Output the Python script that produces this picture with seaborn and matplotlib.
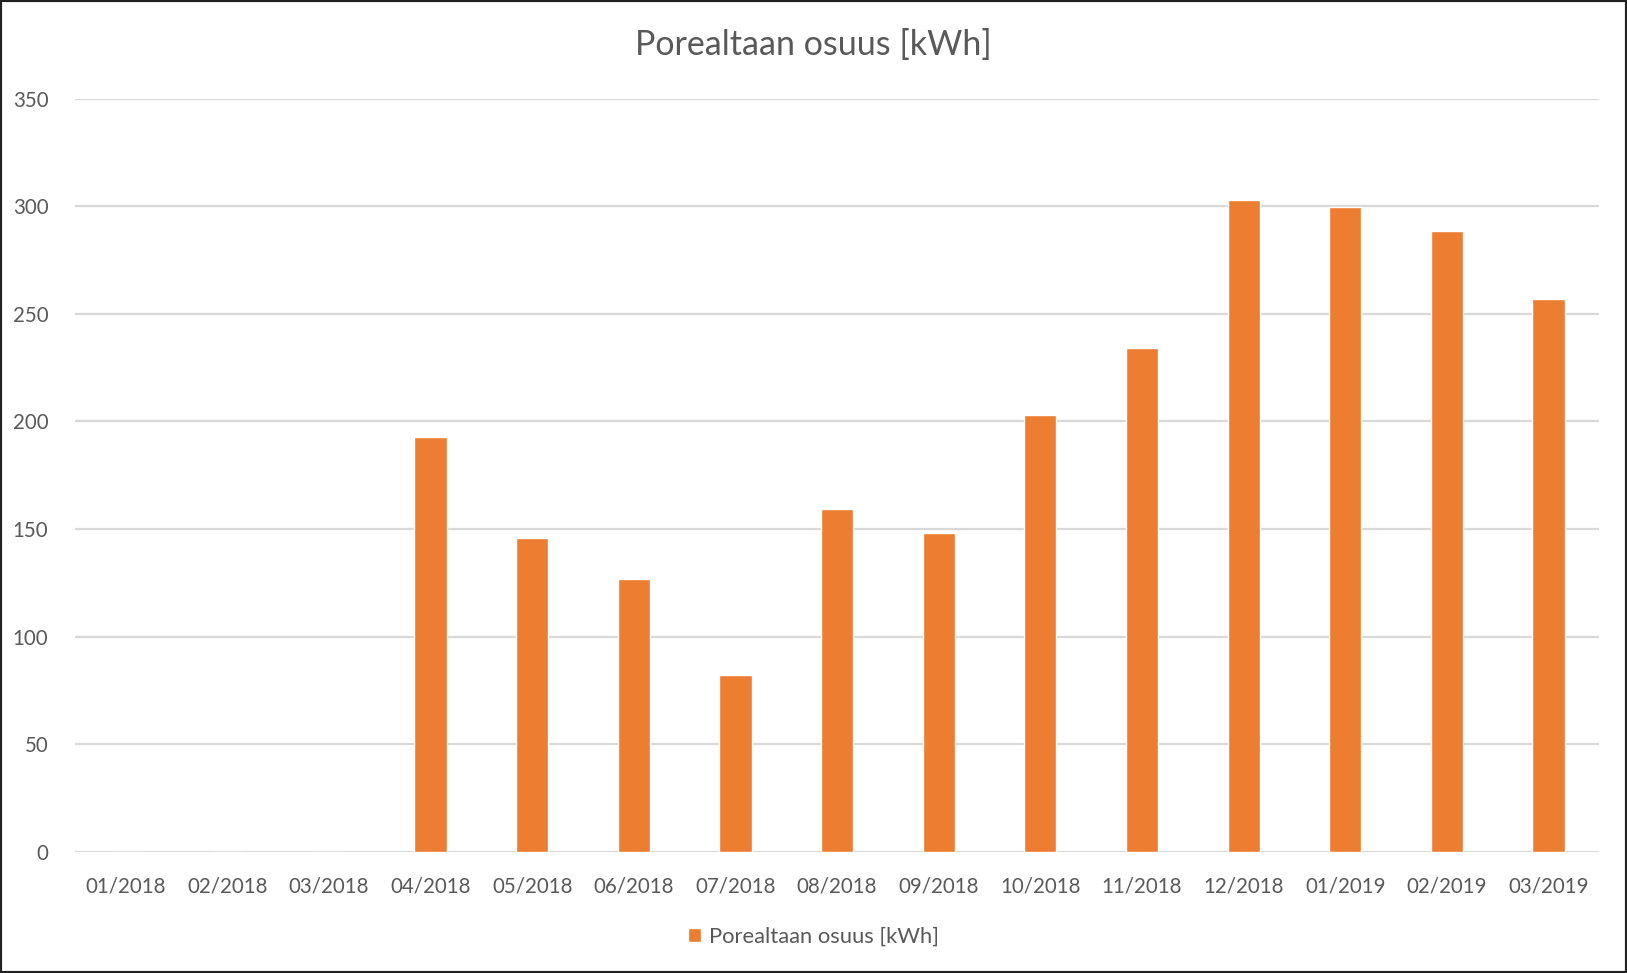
import matplotlib
matplotlib.use("Agg")
import matplotlib.pyplot as plt
import seaborn as sns
import pandas as pd
from matplotlib.patches import Rectangle

# Kuukaudet ja porealtaan kulutus
months = ['01/2018', '02/2018', '03/2018', '04/2018', '05/2018', '06/2018', '07/2018',
          '08/2018', '09/2018', '10/2018', '11/2018', '12/2018', '01/2019', '02/2019', '03/2019']
kwh = [0, 0, 0, 193, 146, 127, 82, 159.5, 148, 203, 234, 303, 299.5, 288.5, 257]
yticks = [0, 50, 100, 150, 200, 250, 300, 350]
label = 'Porealtaan osuus [kWh]'

df = pd.DataFrame({'Kuukausi': months, 'kWh': kwh})

sns.set_style("white")
plt.rcParams['font.family'] = ['Lato', 'DejaVu Sans']
text_col = '#595959'
bar_col = '#ED7D31'
grid_col = '#D9D9D9'

fig = plt.figure(figsize=(16.27, 9.73), dpi=100)
ax = fig.add_axes([0.046, 0.1244, 0.937, 0.7743])

sns.barplot(data=df, x='Kuukausi', y='kWh', color=bar_col, width=0.317,
            saturation=1, label=label, ax=ax, zorder=3)

ax.set_ylim(0, 350)
ax.set_yticks(yticks)
ax.yaxis.grid(True, color=grid_col, linewidth=1.6, zorder=0)
ax.set_axisbelow(True)
for s in ax.spines.values():
    s.set_visible(False)
ax.tick_params(axis='both', length=0, labelsize=14.8, colors=text_col)
ax.tick_params(axis='y', pad=19)
ax.tick_params(axis='x', pad=18)
ax.set_xlabel('')
ax.set_ylabel('')
ax.set_xlim(-0.5, len(months) - 0.5)

fig.suptitle(label, y=0.97, fontsize=24.5, color=text_col, x=0.5)

if ax.legend_:
    ax.legend_.remove()
h, l = ax.get_legend_handles_labels()
fig.legend(h, l, loc='center', bbox_to_anchor=(0.5, 0.037), frameon=False,
           fontsize=15.8, labelcolor=text_col, handlelength=0.6, handleheight=0.6,
           handletextpad=0.4)

# musta kehys
fig.add_artist(Rectangle((0, 0), 1, 1, transform=fig.transFigure, fill=False,
                         edgecolor='#222222', linewidth=3))

plt.savefig('out.png', dpi=100)
